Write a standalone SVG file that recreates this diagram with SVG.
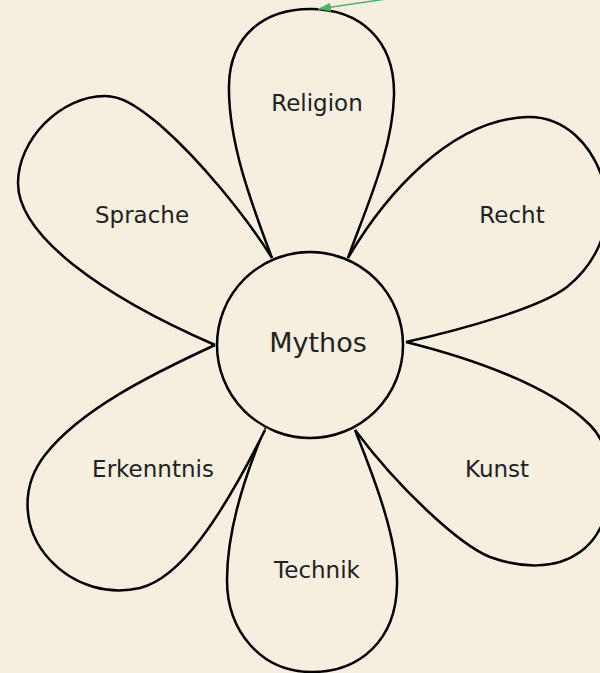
<svg xmlns="http://www.w3.org/2000/svg" width="600" height="673" viewBox="0 0 600 673">
<style>
.petal{fill:#f6efdf;stroke:#000;stroke-width:2.5;stroke-linejoin:round}
.core{fill:#f6efdf;stroke:#000;stroke-width:2.5}
.lbl{font-family:"DejaVu Sans",sans-serif;font-size:23px;fill:#222;text-anchor:middle}
.big{font-size:27px}
.link{stroke:#4cb36e;stroke-width:1.5;fill:none}
</style>
<defs>
<marker id="arr" markerUnits="userSpaceOnUse" markerWidth="14" markerHeight="10" refX="13" refY="4.5" orient="auto">
<path d="M0,0 L13,4.5 L0,9 z" fill="#4cb36e"/>
</marker>
</defs>
<rect width="600" height="673" fill="#f6efdf"/>
<g id="religion">
<path class="petal" d="M272,258 C250,200 228,140 229,85 C230,35 265,9 310,9 C360,9 395,40 394,95 C393,150 365,210 348,258"/>
<text class="lbl" x="317" y="111">Religion</text>
</g>
<g id="recht">
<path class="petal" d="M348,258 C385,195 450,120 527,117 C565,116 592,145 603,180 C615,220 600,260 567,287 C540,308 460,330 406,342"/>
<text class="lbl" x="512" y="223">Recht</text>
</g>
<g id="kunst">
<path class="petal" d="M406,342 C470,358 550,385 590,425 C620,455 618,525 580,552 C555,570 520,568 490,557 C460,545 400,490 355,430"/>
<text class="lbl" x="497" y="477">Kunst</text>
</g>
<g id="technik">
<path class="petal" d="M355,430 C375,480 398,540 397,585 C396,640 360,672 312,672 C260,672 227,630 227,580 C227,530 245,475 265,428"/>
<text class="lbl" x="317" y="578">Technik</text>
</g>
<g id="erkenntnis">
<path class="petal" d="M215,345 C150,375 80,410 45,455 C20,487 22,530 50,560 C75,587 110,595 140,588 C180,578 220,520 265,430"/>
<text class="lbl" x="153" y="477">Erkenntnis</text>
</g>
<g id="sprache">
<path class="petal" d="M272,258 C245,215 200,160 160,125 C135,104 120,96 105,96 C60,96 18,140 18,183 C18,235 100,295 215,345"/>
<text class="lbl" x="142" y="223">Sprache</text>
</g>
<g id="mythos">
<circle class="core" cx="310" cy="345" r="93"/>
<text class="lbl big" x="318" y="352">Mythos</text>
</g>
<g id="connectors">
<path class="link" d="M400,-3 L318,9" marker-end="url(#arr)"/>
</g>
</svg>
